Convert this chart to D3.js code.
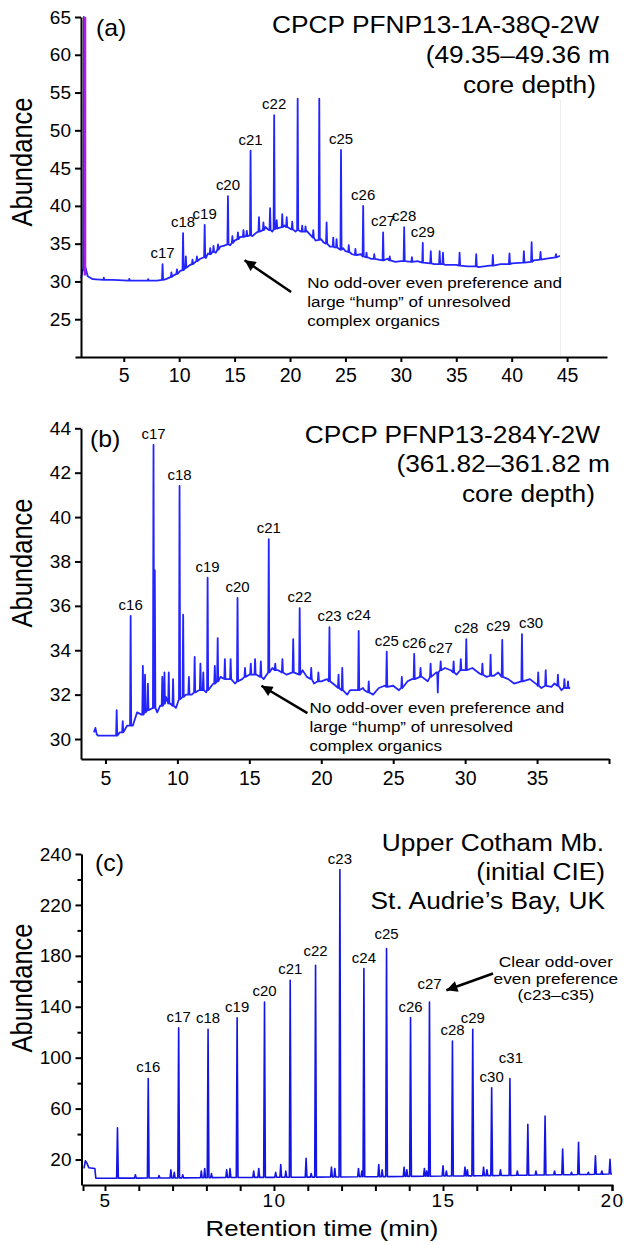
<!DOCTYPE html>
<html>
<head>
<meta charset="utf-8">
<title>n-alkane chromatograms</title>
<style>
  body { margin: 0; background: #fff; }
  svg { display: block; font-family: "Liberation Sans", Arial, sans-serif; }
  .axis path, .axis line { stroke: #000; stroke-width: 2px; }
  .axis text { fill: #000; font-family: "Liberation Sans", Arial, sans-serif; }
  .trace { fill: none; stroke-linejoin: round; }
</style>
</head>
<body>
<svg id="chart" width="624" height="1245"></svg>
<script src="https://d3js.org/d3.v7.min.js"></script>
<script>
// ---------------- (a) CPCP PFNP13-1A-38Q-2W ----------------
var baseA = [[1.15,30.4],[1.3,31.6],[1.55,31.8],[1.75,30.7],[2.2,30.3],[4,30.2],[6,30.1],[8,30.1],[8.8,30.3],[9.5,30.8],
  [10.1,31.4],[11,32.2],[11.9,33.0],[12.4,33.1],[12.6,33.7],[13,33.9],[13.3,33.8],[13.7,34.6],[14,34.7],[14.6,34.8],
  [15,35.4],[15.5,35.9],[16,36.0],[16.6,36.0],[17,36.5],[17.8,37.2],[18,36.9],[18.4,36.6],[19,37.1],[19.5,37.4],
  [20,37.0],[20.5,36.6],[21,36.6],[21.5,36.7],[22,35.9],[22.3,35.4],[22.8,35.6],[23,35.2],[23.6,34.6],[24,34.5],
  [24.8,34.4],[25,34.0],[25.6,33.6],[26,33.5],[26.4,33.6],[27,33.2],[27.3,33.0],[28,32.9],[28.8,33.0],[29.5,32.6],
  [30,32.7],[31.5,32.7],[32,32.5],[33,32.3],[34,32.2],[35,32.2],[36,32.0],[37,31.9],[38,32.1],[39,32.3],
  [40,32.4],[41,32.5],[42,32.8],[43,33.0],[44.4,33.4]];
var peakNamesA = ["c17","c18","c19","c20","c21","c22","","","c25","c26","c27","c28","c29"];
var peakTimesA = [8.5,10.35,12.3,14.4,16.44,18.57,20.69,22.64,24.6,26.6,28.4,30.3,31.98];
var peakBaseA  = [30.2,31.5,33.2,34.9,36.1,36.9,36.8,35.5,34.2,33.3,32.8,32.7,32.5];
var peakTopA   = [32.3,36.4,37.5,41.3,47.3,52.0,54.2,54.2,47.4,40.0,36.5,37.2,35.1];
var minorA = [[1.4,31.5,65],[3.2,30.2,30.5],[5.5,30.1,30.35],[7.2,30.1,30.3],[9.3,30.6,31.2],[9.8,31.0,31.6],
  [10.6,31.8,33.3],[11.2,32.3,32.9],[11.6,32.7,33.3],[12.8,33.6,34.4],[13.1,33.9,34.7],[13.5,34.2,34.9],
  [14.8,35.1,36.0],[15.3,35.6,36.5],[15.8,35.9,36.8],[16.1,36.0,36.7],[17.2,36.6,38.5],[17.6,36.8,37.8],
  [18.2,36.8,39.7],[18.8,37.0,38.1],[19.3,37.2,38.9],[19.7,37.2,38.5],[20.2,36.9,37.9],[21.1,36.6,37.4],
  [21.4,36.6,37.3],[22.1,35.8,36.8],[23.3,35.0,37.8],[23.9,34.6,35.8],[24.2,34.5,35.6],[25.3,33.9,34.8],
  [25.9,33.5,34.3],[26.9,33.2,33.8],[27.6,33.0,33.6],[29.0,32.8,33.3],[31.0,32.6,33.2],[32.7,32.4,34.0],
  [33.5,32.3,34.0],[33.8,32.3,33.8],[35.3,32.1,33.8],[36.8,32.0,33.6],[38.3,32.1,33.5],[39.8,32.3,33.7],
  [41.1,32.5,34.0],[41.8,32.6,35.2],[42.6,32.9,33.9],[44.0,33.2,33.6]];
var solventA = [1.5, 30.8, 65];
var xTicksA = [5,10,15,20,25,30,35,40,45];
var xLabelsA = ["5","10","15","20","25","30","35","40","45"];
var yTicksA = [25,30,35,40,45,50,55,60,65];
var yLabelsA = ["25","30","35","40","45","50","55","60","65"];

// ---------------- (b) CPCP PFNP13-284Y-2W ----------------
var baseB = [[4.2,30.3],[4.3,30.5],[4.4,30.2],[4.5,30.15],[5.5,30.15],[6,30.3],[6.5,30.6],[6.9,30.6],[7,30.8],[7.2,31.2],
  [7.5,31.1],[8,31.3],[8.6,31.2],[8.8,31.5],[9.2,31.9],[9.5,31.6],[9.9,31.4],[10.2,31.8],[10.6,32.0],[11,32.0],
  [11.5,32.2],[12.0,32.1],[12.5,32.5],[13.0,32.8],[13.5,32.7],[14.0,32.5],[14.5,32.7],[15.0,32.9],[15.5,32.9],[16.0,32.7],
  [16.6,33.2],[17,33.1],[17.6,32.9],[18,33.0],[18.7,33.1],[19,32.8],[19.5,32.5],[20,32.6],[20.4,32.7],[21,32.4],
  [21.8,32.0],[22,32.2],[22.9,32.3],[23,32.2],[23.6,32.0],[24,32.3],[24.4,32.4],[25,32.4],[25.4,32.2],[26,32.6],
  [26.3,32.7],[27,32.8],[27.4,32.6],[28,33.0],[28.6,33.2],[29,33.1],[29.4,32.9],[30,33.1],[30.5,33.2],[31,32.95],
  [31.5,32.8],[32,32.85],[32.3,33.0],[33,32.7],[33.4,32.5],[34,32.6],[34.5,32.7],[35,32.45],[35.3,32.3],[36,32.35],
  [36.2,32.5],[36.7,32.2],[37.3,32.3]];
var peakNamesB = ["c16","c17","c18","c19","c20","c21","c22","c23","c24","c25","c26","c27","c28","c29","c30"];
var peakTimesB = [6.75,8.34,10.15,12.1,14.18,16.35,18.5,20.57,22.6,24.55,26.46,28.3,30.08,32.58,33.95];
var peakBaseB  = [30.6,31.4,31.8,32.2,32.6,33.0,32.9,32.6,32.2,32.35,32.7,33.1,33.1,32.8,32.6];
var peakTopB   = [35.55,43.25,41.4,37.27,36.36,39.0,35.9,35.04,34.87,33.94,33.84,33.5,34.5,34.47,34.72];
var minorB = [[5.78,30.15,31.3],[6.2,30.3,30.8],[7.6,31.1,33.3],[7.75,31.2,32.9],[7.95,31.3,32.5],[8.43,31.4,37.6],
  [8.95,31.5,32.8],[9.1,31.6,33.0],[9.4,31.6,33.0],[9.7,31.5,32.7],[10.4,31.9,35.6],[10.8,32.0,32.8],[11.2,32.1,33.7],
  [11.6,32.2,33.4],[11.8,32.2,33.0],[12.6,32.5,33.3],[12.8,32.6,34.55],[13.3,32.7,33.6],[13.7,32.7,33.6],[14.7,32.8,33.2],
  [15.1,32.9,33.4],[15.4,32.9,33.6],[15.8,32.8,33.5],[16.8,33.1,33.4],[17.3,33.0,33.6],[18.05,33.0,34.5],[19.3,32.7,33.2],
  [19.8,32.6,33.0],[21.2,32.3,32.9],[21.46,32.2,33.2],[23.3,32.1,32.6],[25.6,32.3,32.8],[26.9,32.8,33.2],[27.6,32.8,33.4],
  [28.1,33.0,32.1],[29.2,33.0,33.5],[29.7,33.1,33.6],[31.2,32.9,33.4],[31.77,32.85,33.8],[35.08,32.4,33.0],
  [35.6,32.4,33.1],[36.45,32.4,32.9],[36.9,32.3,32.7],[37.15,32.3,32.6]];
var xTicksB = [5,10,15,20,25,30,35,40];
var xLabelsB = ["5","10","15","20","25","30","35",""];
var yTicksB = [30,32,34,36,38,40,42,44];
var yLabelsB = ["30","32","34","36","38","40","42","44"];

// ---------------- (c) Upper Cotham Mb., St. Audrie's Bay ----------------
var baseC = [[4.38,13],[4.42,19],[4.47,17],[4.52,13.5],[4.7,13],[4.73,5.3],[6,5.4],[8,5.7],[10,6.0],[12,6.3],
  [14,6.8],[16,7.3],[17.8,7.8],[20,8.6]];
var peakNamesC = ["","c16","c17","c18","c19","c20","c21","c22","c23","c24","c25","c26","c27","c28","c29","c30","c31","","","","","",""];
var peakTimesC = [5.37,6.28,7.18,8.05,8.91,9.72,10.48,11.23,11.95,12.66,13.33,14.04,14.60,15.28,15.88,16.44,16.98,17.51,18.02,18.54,19.01,19.51,19.94];
var peakBaseC  = [5.4,5.5,5.6,5.8,5.9,6.0,6.1,6.2,6.3,6.5,6.6,6.8,6.9,7.1,7.2,7.4,7.5,7.7,7.9,8.0,8.2,8.4,8.6];
var peakTopC   = [45.0,83.7,123.4,122.4,131.3,143.8,160.8,172.6,247.7,170,185.7,131.5,143.8,113,122.4,76.3,83.7,47.6,54.1,28.2,33.5,23,20.2];
var minorC = [[5.9,5.4,8],[6.6,5.5,7.5],[6.95,5.5,12],[7.05,5.5,10],[7.3,5.6,8],[7.85,5.7,11],[7.95,5.7,13],[8.15,5.8,9],
  [8.6,5.9,12],[8.7,5.9,13],[9.4,6.0,11],[9.55,6.0,13],[10.05,6.1,10],[10.2,6.1,16],[10.35,6.1,11],[10.95,6.2,21],
  [11.1,6.2,9],[11.7,6.3,14],[11.8,6.3,13],[12.5,6.5,13],[12.6,6.5,11],[13.1,6.6,16],[13.2,6.6,12],[13.85,6.8,14],
  [13.93,6.8,12],[14.45,6.9,13],[14.52,6.9,11],[15.0,7.1,15],[15.1,7.1,11],[15.65,7.2,14],[15.72,7.2,12],[16.2,7.4,14],
  [16.3,7.4,12],[16.7,7.5,12],[17.2,7.6,11],[17.75,7.8,11],[18.3,8.0,11],[18.8,8.1,10],[19.3,8.2,10],[19.7,8.4,11]];
var xTicksC = [5,6,7,8,9,10,11,12,13,14,15,16,17,18,19,20];
var xLabelsC = ["5","","","","","10","","","","","15","","","","","20"];
var yTicksC = [20,60,100,140,180,220,260];
var yLabelsC = ["20","60","100","140","180","220","240"];
var yMinorC = [40,80,120,160,200,240];

var annotHump = ["No odd-over even preference and", "large \u201chump\u201d of unresolved", "complex organics"];
var annotOdd = ["Clear odd-over", "even preference", "(c23\u2013c35)"];

// label nudges in pixels where the source figure offsets a label from its peak
var nudgeB = { c24: [0, -5], c27: [0, -2], c29: [-4, -3], c30: [9, 0] };
var nudgeC = { c22: [0, -3], c25: [0, -4], c27: [0, -7], c31: [1, -9] };

// ---------------- drawing ----------------
var svg = d3.select("#chart");
svg.append("rect").attr("width", 624).attr("height", 1245).attr("fill", "#fff");

svg.append("defs").append("marker")
    .attr("id", "head")
    .attr("viewBox", "0 0 10 10")
    .attr("refX", 10).attr("refY", 5)
    .attr("markerWidth", 14).attr("markerHeight", 11)
    .attr("markerUnits", "userSpaceOnUse")
    .attr("orient", "auto")
  .append("path")
    .attr("d", "M0,0L10,5L0,10z")
    .attr("fill", "#000");

// text that is a little wider than tall, like the source figure
function sText(g, x, y, str, size, anchor, sx) {
  return g.append("text")
    .attr("transform", "translate(" + x + "," + y + ") scale(" + sx + ",1)")
    .attr("text-anchor", anchor)
    .attr("font-size", size)
    .attr("fill", "#000")
    .text(str);
}

function buildTrace(base, times, bases, tops, minor, w) {
  var pts = base.map(function(d) { return [d[0], d[1]]; });
  times.forEach(function(t, i) {
    pts.push([t - w, bases[i]], [t, tops[i]], [t + w, bases[i]]);
  });
  minor.forEach(function(m) {
    pts.push([m[0] - w, m[1]], [m[0], m[2]], [m[0] + w, m[1]]);
  });
  pts.sort(function(a, b) { return a[0] - b[0]; });
  return pts;
}

function drawPanel(p) {
  var g = svg.append("g");
  var x = p.x, y = p.y;

  var line = d3.line().x(function(d) { return x(d[0]); }).y(function(d) { return y(d[1]); });
  g.append("path")
    .datum(buildTrace(p.base, p.times, p.bases, p.tops, p.minor, p.w))
    .attr("class", "trace")
    .attr("stroke", p.color)
    .attr("stroke-width", p.lw)
    .attr("d", line);

  if (p.after) p.after(g);

  // axes
  var xa = d3.axisBottom(x).tickValues(p.xTicks)
    .tickFormat(function(d, i) { return p.xLabels[i]; })
    .tickSize(p.xTickSize).tickSizeOuter(p.xOuter).tickPadding(p.xPad);
  var gx = g.append("g").attr("class", "axis")
    .attr("transform", "translate(0," + p.xAxisY + ")").call(xa);
  gx.selectAll("text").attr("font-size", p.xFont).attr("letter-spacing", p.xSpacing || 0);

  var ya = d3.axisLeft(y).tickValues(p.yTicks)
    .tickFormat(function(d, i) { return p.yLabels[i]; })
    .tickSize(6).tickSizeOuter(0).tickPadding(4);
  var gy = g.append("g").attr("class", "axis")
    .attr("transform", "translate(" + p.yAxisX + ",0)").call(ya);
  gy.selectAll("text").attr("font-size", 19);

  if (p.yMinor) {
    var gm = g.append("g").attr("class", "axis")
      .attr("transform", "translate(" + p.yAxisX + ",0)")
      .call(d3.axisLeft(y).tickValues(p.yMinor).tickFormat("").tickSize(4).tickSizeOuter(0));
    gm.select(".domain").remove();
  }

  // peak labels
  var nudge = p.nudge || {};
  p.names.forEach(function(n, i) {
    if (!n) return;
    var d = nudge[n] || [0, 0];
    sText(g, x(p.times[i]) + d[0], y(p.tops[i]) - 6 + d[1], n, 14, "middle", 1.07);
  });

  // panel tag and title
  sText(g, p.tag[1], p.tag[2], p.tag[0], 23, "start", 1.08);
  p.title.forEach(function(t) { sText(g, t[1], t[2], t[0], 23.5, "end", 1.12); });

  // y label
  g.append("text")
    .attr("transform", "translate(32," + p.yLabelY + ") rotate(-90) scale(1,1.15)")
    .attr("text-anchor", "middle")
    .attr("font-size", 25.5)
    .attr("fill", "#000")
    .text("Abundance");

  // annotation
  var a = p.annot;
  a.lines.forEach(function(s, i) {
    sText(g, x(a.t), y(a.v) + i * a.step, s, a.size, a.anchor, a.sx);
  });
  g.append("line")
    .attr("x1", x(a.arrow[0])).attr("y1", y(a.arrow[1]))
    .attr("x2", x(a.arrow[2])).attr("y2", y(a.arrow[3]))
    .attr("stroke", "#000").attr("stroke-width", 2.5)
    .attr("marker-end", "url(#head)");
}

// (a)
var xA = d3.scaleLinear().domain([0.6, 48.6]).range([75, 607]);
var yA = d3.scaleLinear().domain([20, 65]).range([357, 17]);
drawPanel({
  x: xA, y: yA, base: baseA, times: peakTimesA, bases: peakBaseA, tops: peakTopA, names: peakNamesA,
  minor: minorA, w: 0.05, color: "#2424ff", lw: 1.8,
  xTicks: xTicksA, xLabels: xLabelsA, xTickSize: 5, xOuter: 0, xPad: 6, xFont: 19.5, xAxisY: 357,
  yTicks: yTicksA, yLabels: yLabelsA, yAxisX: 81,
  tag: ["(a)", 96, 36],
  title: [["CPCP PFNP13-1A-38Q-2W", 599, 33], ["(49.35\u201349.36 m", 610, 63], ["core depth)", 596, 93]],
  yLabelY: 162,
  annot: { lines: annotHump, t: 21.55, v: 29.1, step: 18.7, size: 15.5, sx: 1.1, anchor: "start",
           arrow: [20.1, 28.6, 15.9, 32.8] },
  after: function(g) {
    // solvent front (off scale) and faint plot edge
    g.append("line")
      .attr("x1", xA(solventA[0])).attr("x2", xA(solventA[0]))
      .attr("y1", yA(solventA[1])).attr("y2", yA(solventA[2]))
      .attr("stroke", "#a81cf0").attr("stroke-width", 2.6);
    var last = baseA[baseA.length - 1][0];
    g.append("line")
      .attr("x1", xA(last)).attr("x2", xA(last))
      .attr("y1", yA(54)).attr("y2", yA(20))
      .attr("stroke", "#ececec").attr("stroke-width", 1);
  }
});

// (b)
var xB = d3.scaleLinear().domain([3.3, 40]).range([81, 609]);
var yB = d3.scaleLinear().domain([29.1, 44]).range([759, 428.3]);
drawPanel({
  x: xB, y: yB, base: baseB, times: peakTimesB, bases: peakBaseB, tops: peakTopB, names: peakNamesB,
  minor: minorB, w: 0.04, color: "#2424ff", lw: 1.8, nudge: nudgeB,
  xTicks: xTicksB, xLabels: xLabelsB, xTickSize: 5, xOuter: 0, xPad: 7, xFont: 19.5, xAxisY: 759,
  yTicks: yTicksB, yLabels: yLabelsB, yAxisX: 81,
  tag: ["(b)", 90, 447],
  title: [["CPCP PFNP13-284Y-2W", 600, 443], ["(361.82\u2013361.82 m", 610, 472], ["core depth)", 595, 501.5]],
  yLabelY: 563,
  annot: { lines: annotHump, t: 19.18, v: 31.19, step: 19, size: 15.5, sx: 1.1, anchor: "start",
           arrow: [19.04, 31.17, 15.84, 32.4] }
});

// (c)
var xC = d3.scaleLinear().domain([4.35, 20]).range([83, 612]);
var yC = d3.scaleLinear().domain([0, 260]).range([1185, 854]);
drawPanel({
  x: xC, y: yC, base: baseC, times: peakTimesC, bases: peakBaseC, tops: peakTopC, names: peakNamesC,
  minor: minorC, w: 0.025, color: "#1414e6", lw: 1.6, nudge: nudgeC,
  xTicks: xTicksC, xLabels: xLabelsC, xTickSize: 6, xOuter: 6, xPad: 3, xFont: 19, xSpacing: 1.5, xAxisY: 1185,
  yTicks: yTicksC, yLabels: yLabelsC, yMinor: yMinorC, yAxisX: 81.5,
  tag: ["(c)", 95, 871],
  title: [["Upper Cotham Mb.", 604, 850.5], ["(initial CIE)", 605, 880], ["St. Audrie\u2019s Bay, UK", 605, 908.5]],
  yLabelY: 988,
  annot: { lines: annotOdd, t: 18.34, v: 171, step: 16.5, size: 15, sx: 1.15, anchor: "middle",
           arrow: [16.48, 166.1, 15.1, 153] }
});

sText(svg, 322, 1236, "Retention time (min)", 22.5, "middle", 1.15);
</script>
</body>
</html>
